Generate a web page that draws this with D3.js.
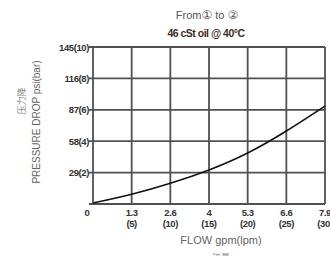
<!DOCTYPE html>
<html lang="en">
<head>
<meta charset="utf-8">
<script src="https://d3js.org/d3.v7.min.js"></script>
<style>
  body { margin: 0; background: #fff; }
  svg { font-family: "Liberation Sans", Arial, sans-serif; }
</style>
</head>
<body>
<svg width="330" height="256"></svg>
<script>
// flow in lpm, pressure drop in bar
var flowLpm = [0, 5, 10, 15, 20, 25, 30];
var dropBar = [0.06, 0.62, 1.32, 2.17, 3.25, 4.65, 6.24];
var xTicks = [0, 5, 10, 15, 20, 25, 30];
var xGpm = ['0', '1.3', '2.6', '4', '5.3', '6.6', '7.9'];
var yTicks = [0, 2, 4, 6, 8, 10];
var yPsi = ['0', '29', '58', '87', '116', '145'];

var svg = d3.select('svg');
var plotL = 93, plotR = 325, plotT = 47, plotB = 204;

var x = d3.scaleLinear().domain([0, 30]).range([plotL, plotR]);
var y = d3.scaleLinear().domain([0, 10]).range([plotB, plotT]);

// grid
svg.append('g').selectAll('line').data(xTicks).enter().append('line')
  .attr('x1', d => x(d)).attr('x2', d => x(d))
  .attr('y1', plotT).attr('y2', plotB)
  .attr('stroke', '#505050').attr('stroke-width', 1.8);
svg.append('g').selectAll('line').data(yTicks).enter().append('line')
  .attr('x1', plotL - 4).attr('x2', plotR)
  .attr('y1', d => y(d)).attr('y2', d => y(d))
  .attr('stroke', '#505050').attr('stroke-width', 1.8);

// y tick labels
svg.append('g').selectAll('text').data(yTicks.slice(1)).enter().append('text')
  .attr('x', plotL - 4).attr('y', d => y(d) + 3.5)
  .attr('text-anchor', 'end').attr('font-size', 9.5).attr('font-weight', 'bold')
  .attr('fill', '#333').attr('letter-spacing', -0.4)
  .text((d, i) => yPsi[i + 1] + '(' + d + ')');

// x tick labels
var xl = svg.append('g').selectAll('text').data(xTicks).enter().append('text')
  .attr('x', d => x(d)).attr('y', 216)
  .attr('text-anchor', 'middle').attr('font-size', 9.5).attr('font-weight', 'bold')
  .attr('fill', '#333').attr('letter-spacing', -0.4);
xl.append('tspan').attr('x', d => d === 0 ? 87 : x(d)).text((d, i) => xGpm[i]);
xl.filter(d => d > 0).append('tspan').attr('x', d => x(d)).attr('dy', 11).text(d => '(' + d + ')');

// curve
var line = d3.line().x((d, i) => x(flowLpm[i])).y(d => y(d)).curve(d3.curveNatural);
svg.append('path').datum(dropBar).attr('d', line)
  .attr('fill', 'none').attr('stroke', '#111').attr('stroke-width', 1.6);

// titles
var t1 = svg.append('text').attr('x', 207).attr('y', 19).attr('text-anchor', 'middle')
  .attr('font-size', 11).attr('fill', '#555');
t1.append('tspan').text('From');
t1.append('tspan').attr('font-family', 'DejaVu Sans').attr('font-size', 12).text('\u2460');
t1.append('tspan').text(' to ');
t1.append('tspan').attr('font-family', 'DejaVu Sans').attr('font-size', 12).text('\u2461');
svg.append('text').attr('x', 206).attr('y', 37).attr('text-anchor', 'middle')
  .attr('font-size', 10.5).attr('font-weight', 'bold').attr('fill', '#3d2e1e')
  .attr('letter-spacing', -0.5).text('46 cSt oil @ 40\u00b0C');

// axis titles
svg.append('text').attr('transform', 'translate(40,122) rotate(-90)')
  .attr('text-anchor', 'middle').attr('font-size', 10).attr('fill', '#666')
  .text('PRESSURE DROP psi(bar)');
svg.append('text').attr('transform', 'translate(25,101) rotate(-90)')
  .attr('text-anchor', 'middle').attr('font-size', 9).attr('fill', '#888')
  .attr('font-family', 'Noto Sans CJK SC').text('压力降');
svg.append('text').attr('x', 221).attr('y', 244).attr('text-anchor', 'middle')
  .attr('font-size', 11).attr('fill', '#666').text('FLOW gpm(lpm)');
svg.append('text').attr('x', 221).attr('y', 261).attr('text-anchor', 'middle')
  .attr('font-size', 9).attr('fill', '#888')
  .attr('font-family', 'Noto Sans CJK SC').text('流量');
</script>
</body>
</html>
